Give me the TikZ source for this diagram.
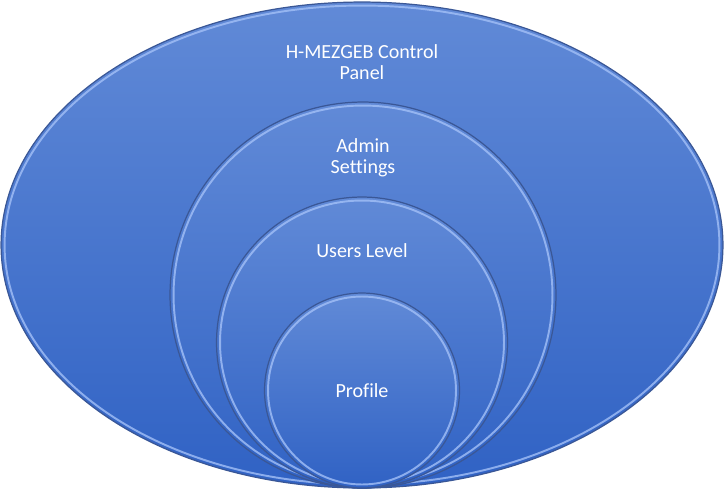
\documentclass[tikz,border=0pt]{standalone}
\usepackage{fontspec}
\setmainfont[Ligatures=NoCommon]{Carlito}
\usetikzlibrary{shapes.geometric}
\definecolor{shadetop}{HTML}{618AD7}
\definecolor{shademid}{HTML}{4677D3}
\definecolor{shadebot}{HTML}{3062C4}
\definecolor{rimdark}{HTML}{3A5796}
\definecolor{rimlight}{HTML}{A3C0F7}
\tikzset{
	layer/.style={
		draw=rimdark,
		line width=0.7pt,
		top color=shadetop,
		middle color=shademid,
		bottom color=shadebot,
		inner sep=0pt
	},
	glint/.style={
		draw=rimlight,
		line width=1.1pt,
		draw opacity=0.8,
		inner sep=0pt
	},
	caption/.style={
		text=white,
		align=center,
		font=\fontsize{11.4}{12}\selectfont
	}
}

\begin{document}
\begin{tikzpicture}[x=0.02cm, y=-0.02cm]
	\useasboundingbox (0,0) rectangle (726,490);

	% outer panel
	\node[layer, ellipse, minimum width=14.44cm, minimum height=9.72cm] (panel) at (362,245) {};
	\node[glint, ellipse, minimum width=14.30cm, minimum height=9.58cm] (panelrim) at (panel.center) {};

	% nested rings, all touching at the bottom
	\node[layer, circle, minimum size=7.72cm] (admin) at (363,295) {};
	\node[glint, circle, minimum size=7.58cm] (adminrim) at (admin.center) {};
	\node[layer, circle, minimum size=5.82cm] (users) at (362,342.5) {};
	\node[glint, circle, minimum size=5.68cm] (usersrim) at (users.center) {};
	\node[layer, circle, minimum size=3.90cm] (profile) at (362,390.5) {};
	\node[glint, circle, minimum size=3.76cm] (profilerim) at (profile.center) {};

	% labels
	\node[caption] (paneltext) at (362,62) {H-MEZGEB Control\\Panel};
	\node[caption] (admintext) at (363,158) {Admin\\Settings};
	\node[caption, anchor=base] (userstext) at (362,257) {Users Level};
	\node[caption, anchor=base] (profiletext) at (362,397) {Profile};
\end{tikzpicture}
\end{document}
